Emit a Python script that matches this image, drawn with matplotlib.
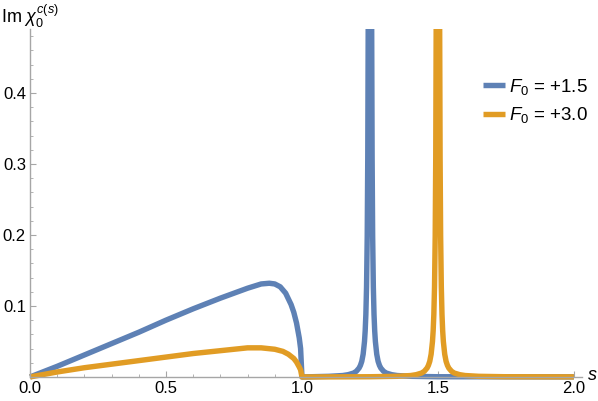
import matplotlib
matplotlib.use("Agg")
import matplotlib.pyplot as plt
from matplotlib.ticker import MultipleLocator

plt.rcParams['font.family'] = ['Liberation Sans', 'DejaVu Sans']
plt.rcParams['mathtext.fontset'] = 'custom'
plt.rcParams['mathtext.rm'] = 'Liberation Sans'
plt.rcParams['mathtext.it'] = 'Liberation Sans:italic'

# values
s_blue = [0.0, 0.1, 0.2, 0.3, 0.4, 0.5, 0.6, 0.7, 0.75, 0.8, 0.85, 0.88, 0.9,
          0.92, 0.94, 0.96, 0.97, 0.98, 0.99, 0.995, 1.0,
          1.1, 1.15, 1.17, 1.19, 1.2, 1.21, 1.215, 1.22, 1.225, 1.23, 1.2325,
          1.235, 1.2375, 1.24, 1.242, 1.244, 1.246, 1.248, 1.25,
          1.252, 1.254, 1.256, 1.258, 1.26, 1.2625, 1.265, 1.2675, 1.27,
          1.275, 1.28, 1.285, 1.29, 1.3, 1.31, 1.33, 1.35, 1.4, 1.5, 2.0]
im_blue = [0.0, 0.015, 0.031, 0.047, 0.063, 0.080, 0.096, 0.111, 0.118, 0.125,
           0.131, 0.132, 0.131, 0.127, 0.118, 0.102, 0.091, 0.076, 0.055,
           0.040, 0.0,
           0.0009, 0.002, 0.0032, 0.0055, 0.008, 0.0125, 0.0163, 0.022,
           0.032, 0.050, 0.065, 0.088, 0.127, 0.198, 0.31, 0.54, 1.18, 4.0,
           12.0,
           4.0, 1.18, 0.54, 0.31, 0.198, 0.127, 0.088, 0.065, 0.050,
           0.032, 0.022, 0.0163, 0.0125, 0.008, 0.0055, 0.0032, 0.002,
           0.0009, 0.0003, 0.0001]

s_orange = [0.0, 0.1, 0.2, 0.3, 0.4, 0.5, 0.6, 0.7, 0.8, 0.85, 0.9, 0.93,
            0.95, 0.97, 0.98, 0.99, 0.995, 1.0,
            1.1, 1.25, 1.35, 1.4, 1.42, 1.44, 1.45, 1.46, 1.465, 1.47, 1.475,
            1.48, 1.4825, 1.485, 1.4875, 1.49, 1.492, 1.494, 1.496, 1.498,
            1.5,
            1.502, 1.504, 1.506, 1.508, 1.51, 1.5125, 1.515, 1.5175, 1.52,
            1.525, 1.53, 1.535, 1.54, 1.55, 1.56, 1.58, 1.6, 1.65, 1.75, 2.0]
im_orange = [0.0, 0.007, 0.013, 0.018, 0.023, 0.028, 0.033, 0.037, 0.041,
             0.041, 0.039, 0.036, 0.032, 0.026, 0.021, 0.014, 0.010, 0.0,
             0.0001, 0.0003, 0.0009, 0.002, 0.0032, 0.0055, 0.008, 0.0125,
             0.0163, 0.022, 0.032, 0.050, 0.065, 0.088, 0.127, 0.198, 0.31,
             0.54, 1.18, 4.0,
             12.0,
             4.0, 1.18, 0.54, 0.31, 0.198, 0.127, 0.088, 0.065, 0.050,
             0.032, 0.022, 0.0163, 0.0125, 0.008, 0.0055, 0.0032, 0.002,
             0.0009, 0.0003, 0.0001]

labels = [r"$F_0$ = +1.5", r"$F_0$ = +3.0"]
colors = ['#5E81B5', '#E19C24']

fig = plt.figure(figsize=(5.98, 4.01), dpi=100)
ax = fig.add_axes([0.0457, 0.0529, 0.9276, 0.8745])

ax.plot(s_blue, im_blue, color=colors[0], lw=3.9, label=labels[0],
        solid_capstyle='butt')
ax.plot(s_orange, im_orange, color=colors[1], lw=3.9, label=labels[1],
        solid_capstyle='butt')

ax.set_xlim(-0.01, 2.03)
ax.set_ylim(-0.004, 0.49)

# Mathematica-like axes through the origin
axis_gray = '#a6a6a6'
for side in ['top', 'right']:
    ax.spines[side].set_visible(False)
ax.spines['left'].set_position(('data', 0))
ax.spines['bottom'].set_position(('data', 0))
ax.spines['left'].set_bounds(0, 0.49)
ax.spines['bottom'].set_bounds(0, 2.03)
for side in ['left', 'bottom']:
    ax.spines[side].set_color(axis_gray)
    ax.spines[side].set_linewidth(1.0)

ax.set_xticks([0.0, 0.5, 1.0, 1.5, 2.0])
ax.set_xticklabels(['0.0', '0.5', '1.0', '1.5', '2.0'])
ax.set_yticks([0.1, 0.2, 0.3, 0.4])
ax.set_yticklabels(['0.1', '0.2', '0.3', '0.4'])
ax.xaxis.set_minor_locator(MultipleLocator(0.1))
ax.yaxis.set_minor_locator(MultipleLocator(0.02))
ax.tick_params(which='major', direction='in', length=4, color=axis_gray,
               labelsize=12, labelcolor='black', pad=3)
ax.tick_params(which='minor', direction='in', length=2, color=axis_gray)

fig.text(0.002, 1 - 23 / 401, r"Im $\chi_0^{c(s)}$", fontsize=13,
         va='baseline', ha='left')
fig.text(0.983, 1 - 376 / 401, "s", fontsize=13, style='italic',
         va='center', ha='left')

fig.legend(loc='upper left', bbox_to_anchor=(0.792, 0.832), frameon=False,
           fontsize=13.5, handlelength=1.2, handletextpad=0.2,
           borderpad=0, labelspacing=0.45)

fig.savefig('out.png', dpi=100)
